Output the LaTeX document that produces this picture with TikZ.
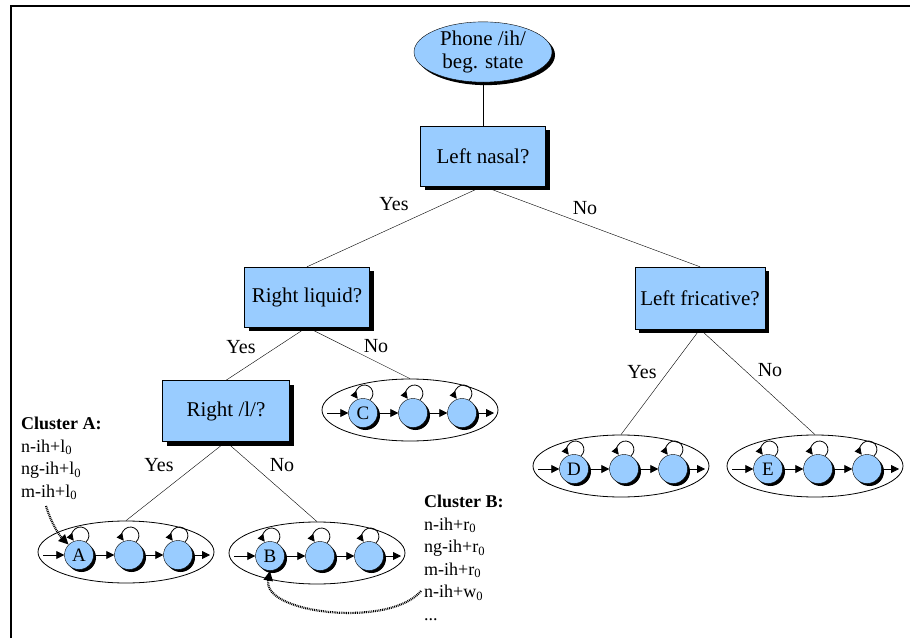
\documentclass[tikz,border=0pt]{standalone}
\usepackage{fontspec}
\setmainfont{Liberation Serif}
\usetikzlibrary{shapes.geometric,shadows,arrows.meta,calc}
\definecolor{boxblue}{RGB}{153,204,255}
\newcommand\hmmcluster[4]{%
  \node[clell] (#1) at (#2,#3) {};
  \node[stnode] (#1-1) at (#2-47,#3-3) {#4};
  \node[stnode] (#1-2) at (#2+3,#3-3) {};
  \node[stnode] (#1-3) at (#2+52,#3-3) {};
  \coordinate (#1-i) at (#2-83,#3-3);
  \coordinate (#1-o) at (#2+84,#3-3);
  \draw[arr] (#1-i) -- (#1-1);
  \draw[arr] (#1-1) -- (#1-2);
  \draw[arr] (#1-2) -- (#1-3);
  \draw[arr] (#1-3) -- (#1-o);
  \foreach \k in {1,2,3}{%
    \draw[looparr] (#1-\k.62) arc[start angle=-50, end angle=218, radius=8.5pt];}
}
\begin{document}
\begin{tikzpicture}[x=1pt,y=1pt,
  qbox/.style={rectangle,draw=black,fill=boxblue,minimum width=125pt,minimum height=60pt,inner sep=0pt,
    font=\fontsize{21}{25}\selectfont,
    drop shadow={shadow xshift=4pt,shadow yshift=-4pt,fill=black,opacity=1}},
  rootell/.style={ellipse,draw=black,fill=boxblue,minimum width=138pt,minimum height=54pt,inner sep=0pt,align=center,
    font=\fontsize{21}{23.5}\selectfont,
    drop shadow={shadow xshift=3pt,shadow yshift=-3pt,fill=black,opacity=1}},
  clell/.style={ellipse,draw=black,thick,minimum width=176pt,minimum height=62pt,inner sep=0pt},
  stnode/.style={circle,draw=black,fill=boxblue,minimum size=29pt,inner sep=0pt,
    font=\fontsize{19}{19}\selectfont,
    drop shadow={shadow xshift=2.5pt,shadow yshift=-2.5pt,fill=black,opacity=1}},
  arr/.style={thick,-{Triangle[length=8pt,width=8pt]}},
  looparr/.style={thick,-{Triangle[length=7pt,width=7pt]}},
  tline/.style={draw=black,thin},
  lbl/.style={font=\fontsize{20}{24}\selectfont,inner sep=0pt},
  cltext/.style={font=\fontsize{18}{22.5}\selectfont,align=left,inner sep=0pt,anchor=north west},
  dotarr/.style={line width=2.2pt,dash pattern=on 0.9pt off 0.9pt,-{Triangle[length=10pt,width=9pt]}}
]
\useasboundingbox (0,0) rectangle (910,638);
% frame
\draw[line width=2pt] (11,0) -- (11,632) -- (910,632);

% tree nodes
\node[rootell] (root) at (483,586) {Phone /ih/\\beg. state};
\node[qbox] (ln) at (483,482) {Left nasal?};
\node[qbox] (rl) at (307,341) {Right liquid?};
\node[qbox,minimum width=130pt,minimum height=62pt] (lf) at (700,340) {Left fricative?};
\node[qbox,minimum width=127pt,minimum height=61pt] (rr) at (226,227) {Right /l/?};

\hmmcluster{C}{410}{228}{C}
\hmmcluster{A}{126}{86}{A}
\hmmcluster{B}{317}{85}{B}
\hmmcluster{D}{621}{172}{D}
\hmmcluster{E}{815}{172}{E}

% tree edges
\draw[tline] (root) -- (ln);
\draw[tline] (ln.south) -- (rl.north);
\draw[tline] (ln.south) -- (lf.north);
\draw[tline] (rl.south) -- (rr.north);
\draw[tline] (rl.south) -- (C.north);
\draw[tline] (rr.south) -- (A.north);
\draw[tline] (rr.south) -- (B.north);
\draw[tline] (lf.south) -- (D.north);
\draw[tline] (lf.south) -- (E.north);

% edge labels
\node[lbl] (y1) at (394,434) {Yes};
\node[lbl] (n1) at (585,430) {No};
\node[lbl] (y2) at (241,291) {Yes};
\node[lbl] (n2) at (376,292) {No};
\node[lbl] (y3) at (159,173) {Yes};
\node[lbl] (n3) at (282,173) {No};
\node[lbl] (y4) at (642,266) {Yes};
\node[lbl] (n4) at (770,268) {No};

% cluster texts
\node[cltext] (ca) at (21,221) {\textbf{Cluster A:}\\n-ih+l\textsubscript{0}\\ng-ih+l\textsubscript{0}\\m-ih+l\textsubscript{0}};
\node[cltext] (cb) at (424,143) {\textbf{Cluster B:}\\n-ih+r\textsubscript{0}\\ng-ih+r\textsubscript{0}\\m-ih+r\textsubscript{0}\\n-ih+w\textsubscript{0}\\...};

\coordinate (pa) at (46,132);
\coordinate (pb) at (421,47);
\draw[dotarr] (pa) .. controls (50,118) and (58,104) .. (A-1.135);
\draw[dotarr] (pb) .. controls (390,10) and (262,24) .. (B-1.south);
\end{tikzpicture}
\end{document}
